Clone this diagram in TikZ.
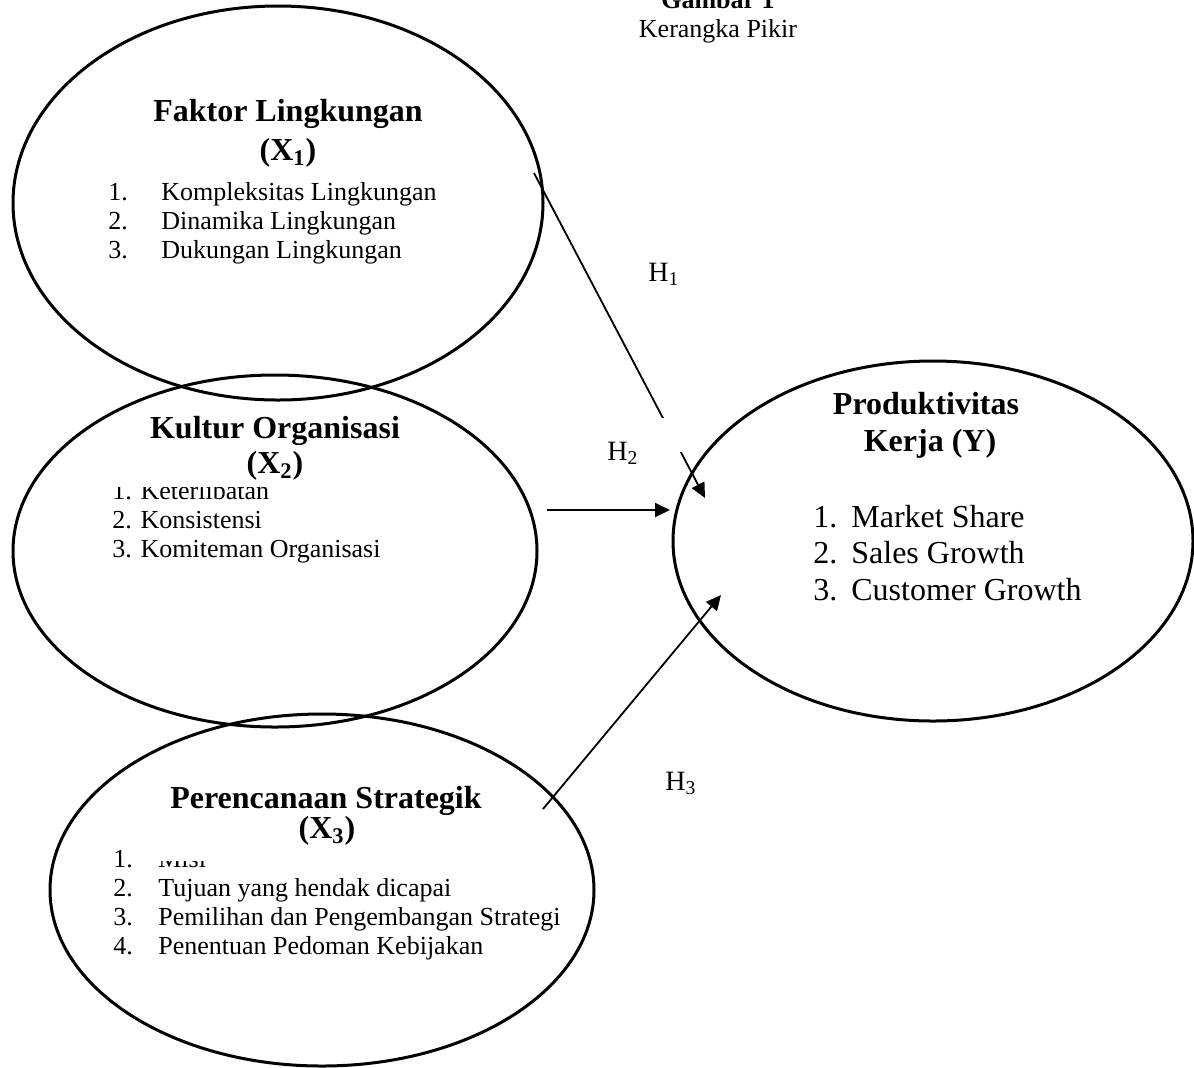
\documentclass[tikz,border=0pt]{standalone}
\usepackage{fontspec}
\setmainfont{Liberation Serif}
\usetikzlibrary{arrows.meta,shapes.geometric}
\begin{document}
\begin{tikzpicture}[x=0.5pt,y=-0.5pt,
  ell/.style={draw, ellipse, line width=1.5pt, inner sep=0pt},
  head/.style={font=\bfseries\fontsize{16}{18}\selectfont, anchor=base, inner sep=0pt},
  itm/.style={font=\fontsize{13}{15}\selectfont, anchor=base west, inner sep=0pt},
  bigitm/.style={font=\fontsize{16}{18}\selectfont, anchor=base west, inner sep=0pt},
  hlab/.style={font=\fontsize{14}{16}\selectfont, anchor=base west, inner sep=0pt},
  arr/.style={line width=0.9pt, -{Triangle[length=7.5pt,width=7pt]}},
  cover/.style={fill=white, draw=none}
]
\useasboundingbox (0,0) rectangle (1194,1067);

% title
\node[font=\bfseries\fontsize{13}{15}\selectfont, anchor=base, inner sep=0pt] (t1) at (718,8) {Gambar 1};
\node[font=\fontsize{13}{15}\selectfont, anchor=base, inner sep=0pt] (t2) at (718,37) {Kerangka Pikir};

% X1 items
\node[itm] (a1) at (108,200) {\makebox[26.5pt][l]{1.}Kompleksitas Lingkungan};
\node[itm] (a2) at (108,229) {\makebox[26.5pt][l]{2.}Dinamika Lingkungan};
\node[itm] (a3) at (108,258) {\makebox[26.5pt][l]{3.}Dukungan Lingkungan};

% X2 items
\node[itm] (b1) at (112,499) {1. Keterlibatan};
\node[itm] (b2) at (112,528) {2. Konsistensi};
\node[itm] (b3) at (112,557) {3. Komiteman Organisasi};

% X3 items
\node[itm] (c1) at (113,867) {\makebox[22.5pt][l]{1.}Misi};
\node[itm] (c2) at (113,896) {\makebox[22.5pt][l]{2.}Tujuan yang hendak dicapai};
\node[itm] (c3) at (113,925) {\makebox[22.5pt][l]{3.}Pemilihan dan Pengembangan Strategi};
\node[itm] (c4) at (113,954) {\makebox[22.5pt][l]{4.}Penentuan Pedoman Kebijakan};

% Y items
\node[bigitm] (d1) at (813,527) {\makebox[19pt][l]{1.}Market Share};
\node[bigitm] (d2) at (813,563) {\makebox[19pt][l]{2.}Sales Growth};
\node[bigitm] (d3) at (813,600) {\makebox[19pt][l]{3.}Customer Growth};

% H1 connector (partly hidden under the H2 label box)
\coordinate (s1) at (534,173);
\coordinate (e1) at (705,498);
\draw[arr] (s1) -- (e1);

% covering boxes of the text frames
\fill[cover] (95,395) rectangle (460,487);
\fill[cover] (150,775) rectangle (480,861);
\fill[cover] (575,418) rectangle (685,452);

% headings
\node[head] (h1a) at (288,121) {Faktor Lingkungan};
\node[head] (h1b) at (288,160) {(X\textsubscript{1})};
\node[head] (h2a) at (275,438) {Kultur Organisasi};
\node[head] (h2b) at (275,473) {(X\textsubscript{2})};
\node[head] (h3a) at (326,808) {Perencanaan Strategik};
\node[head] (h3b) at (327,838) {(X\textsubscript{3})};
\node[head] (hya) at (926,414) {Produktivitas};
\node[head] (hyb) at (930,451) {Kerja (Y)};

% hypothesis labels
\node[hlab] (H1) at (648,281) {H\textsubscript{1}};
\node[hlab] (H2) at (607,460) {H\textsubscript{2}};
\node[hlab] (H3) at (665,790) {H\textsubscript{3}};

% other connectors
\coordinate (s2) at (547,510);
\coordinate (e2) at (670,510);
\draw[arr] (s2) -- (e2);
\coordinate (s3) at (543,809);
\coordinate (e3) at (721,595);
\draw[arr] (s3) -- (e3);

% ellipses
\node[ell, minimum width=265pt, minimum height=197pt] (X1) at (278,203) {};
\node[ell, minimum width=262pt, minimum height=176pt] (X2) at (275,551) {};
\node[ell, minimum width=272pt, minimum height=176pt] (X3) at (322,890) {};
\node[ell, minimum width=260pt, minimum height=180pt] (Y) at (933,541) {};
\end{tikzpicture}
\end{document}
